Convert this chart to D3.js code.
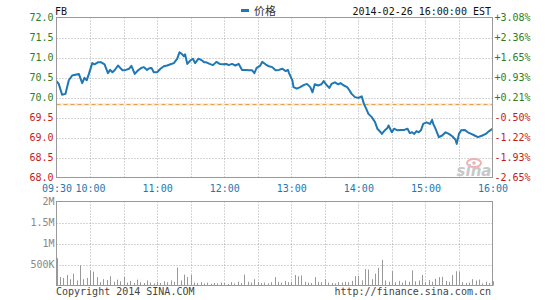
<!DOCTYPE html>
<html><head><meta charset="utf-8">
<script src="https://cdn.jsdelivr.net/npm/d3@7"></script>
<style>
html,body{margin:0;padding:0;background:#fff;}
svg{display:block;}
text{font-family:"DejaVu Sans Mono",monospace;font-size:10px;}
</style></head>
<body>
<svg id="c" width="545" height="300"></svg>
<script>
// ---- data ----
const symbol = "FB";
const seriesName = "价格";
const stamp = "2014-02-26 16:00:00 EST";
const prevClose = 69.85;
const priceTicks = [72.0, 71.5, 71.0, 70.5, 70.0, 69.5, 69.0, 68.5, 68.0];
const pctLabels = ["+3.08%","+2.36%","+1.65%","+0.93%","+0.21%","-0.50%","-1.22%","-1.93%","-2.65%"];
const timeTickMinutes = [0, 30, 90, 150, 210, 270, 330, 390];
const timeLabels = ["09:30","10:00","11:00","12:00","13:00","14:00","15:00","16:00"];
const gridMinutes = [30,60,90,120,150,180,210,240,270,300,330,360];
const volTicks = [2000, 1500, 1000, 500];
const volLabels = ["2M","1.5M","1M","500K"];
// minutes after 09:30
const priceMinutes = [0,2,5,8,11,14,17,20,23,25,27,29,32,34,37,40,43,46,48,50,52,55,57,59,62,65,67,70,73,76,78,81,83,85,87,90,93,96,99,102,105,108,110,112,114,115,117,120,122,124,127,130,132,134,137,140,143,146,149,152,154,157,160,163,166,169,172,175,177,179,182,184,187,190,193,196,199,202,205,207,208,211,212,215,218,221,224,227,229,231,234,237,239,241,244,246,249,252,254,257,260,262,264,267,270,273,275,277,279,282,285,287,290,291,294,296,297,300,302,305,308,311,314,316,318,320,322,324,326,328,331,334,336,337,339,342,345,348,351,354,357,358,360,362,365,368,371,374,377,381,384,387,390];
const priceValues = [70.41,70.34,70.07,70.09,70.43,70.55,70.57,70.59,70.36,70.49,70.43,70.59,70.86,70.83,70.88,70.88,70.83,70.61,70.69,70.63,70.68,70.80,70.74,70.68,70.69,70.72,70.79,70.59,70.68,70.74,70.76,70.69,70.73,70.74,70.63,70.63,70.72,70.78,70.80,70.83,70.86,70.97,71.13,71.09,71.03,71.08,70.84,70.93,70.97,70.86,70.97,70.93,70.88,70.88,70.84,70.81,70.89,70.84,70.83,70.84,70.81,70.84,70.80,70.84,70.69,70.69,70.68,70.68,70.61,70.74,70.79,70.89,70.83,70.78,70.76,70.68,70.69,70.72,70.66,70.69,70.61,70.43,70.26,70.22,70.26,70.31,70.34,70.26,70.13,70.33,70.30,70.33,70.41,70.33,70.24,70.34,70.38,70.33,70.36,70.30,70.26,70.18,70.09,70.01,69.99,70.03,69.84,69.72,69.59,69.51,69.38,69.22,69.13,69.09,69.19,69.24,69.30,69.13,69.22,69.18,69.19,69.19,69.22,69.11,69.13,69.09,69.16,69.13,69.18,69.34,69.38,69.34,69.44,69.34,69.22,69.01,69.05,69.13,69.09,69.03,68.94,68.84,69.09,69.18,69.19,69.13,69.09,69.05,69.01,69.05,69.09,69.16,69.22];
// volume in thousands, one bar every 3 minutes from 09:30
const volumeK = [650,200,180,250,150,280,120,480,150,180,360,330,200,80,150,130,220,90,140,100,210,70,110,60,140,80,60,120,70,50,90,60,100,80,120,90,430,120,260,200,250,70,60,80,50,70,40,60,50,70,60,40,80,50,90,60,260,90,70,150,80,60,70,50,80,200,90,70,110,80,90,250,220,240,90,70,60,200,90,80,150,70,60,50,80,70,90,80,110,220,230,120,390,380,150,280,420,610,120,90,340,80,110,70,120,90,360,100,120,250,80,130,90,160,200,210,110,90,250,340,330,80,60,70,150,120,140,50,90,60,100];
const volStepMin = 3;
const copyright = "Copyright 2014 SINA.COM";
const siteUrl = "http://finance.sina.com.cn";

// ---- layout ----
const L = 56.5, R = 492.5;
const mainTop = 17.5, mainBot = 177.5;
const volTop = 201.5, volBot = 285.5;
const green = "#2f7d1c", red = "#c41a1a", blue = "#1f77b4";

const svg = d3.select("#c");
const x = d3.scaleLinear().domain([0, 390]).range([L, R]);
const y = d3.scaleLinear().domain([68, 72]).range([mainBot, mainTop]);
const yv = d3.scaleLinear().domain([0, 2000]).range([volBot, volTop]);

// grids
function grid(g, top, bot, yVals, ys) {
  g.selectAll("line.v").data(gridMinutes).join("line")
    .attr("x1", d => Math.round(x(d)) + 0.5).attr("x2", d => Math.round(x(d)) + 0.5)
    .attr("y1", top).attr("y2", bot)
    .attr("stroke", "#aaa").attr("stroke-dasharray", "1,2");
  g.selectAll("line.h").data(yVals).join("line").attr("class","h")
    .attr("x1", L).attr("x2", R)
    .attr("y1", d => Math.round(ys(d)) + 0.5).attr("y2", d => Math.round(ys(d)) + 0.5)
    .attr("stroke", "#aaa").attr("stroke-dasharray", "1,2");
}
grid(svg.append("g"), mainTop, mainBot, priceTicks.slice(1, -1), y);
grid(svg.append("g"), volTop, volBot, volTicks.slice(1), yv);

// prev close line
const pcY = Math.round(y(prevClose)) + 0.5;
svg.append("line").attr("x1", L).attr("x2", R).attr("y1", pcY).attr("y2", pcY)
  .attr("stroke", "#fbeed6").attr("stroke-width", 3);
svg.append("line").attr("x1", L).attr("x2", R).attr("y1", pcY).attr("y2", pcY)
  .attr("stroke", "#e9a04a").attr("stroke-dasharray", "4,3");

// sina watermark
const wm = svg.append("g");
wm.append("ellipse").attr("cx", 474).attr("cy", 163).attr("rx", 7).attr("ry", 4)
  .attr("fill", "none").attr("stroke", "#f2b0b0").attr("stroke-width", 2);
wm.append("circle").attr("cx", 474).attr("cy", 163).attr("r", 1.8).attr("fill", "#f2b0b0");
wm.append("text").attr("x", 474).attr("y", 176).attr("text-anchor", "middle")
  .style("font-family", "DejaVu Sans").style("font-size", "15px").style("font-weight", "bold")
  .style("font-style", "italic").attr("fill", "#c8c8c8").text("sina");

// price line
const pts = priceMinutes.map((m, i) => [m, priceValues[i]]);
svg.append("path").datum(pts)
  .attr("d", d3.line().x(d => x(d[0])).y(d => y(d[1])))
  .attr("fill", "none").attr("stroke", blue).attr("stroke-width", 2).attr("stroke-linejoin", "round");

// volume bars
svg.append("g").selectAll("line").data(volumeK).join("line")
  .attr("x1", (d, i) => Math.round(x(i * volStepMin)) + 0.5)
  .attr("x2", (d, i) => Math.round(x(i * volStepMin)) + 0.5)
  .attr("y1", volBot).attr("y2", d => yv(d))
  .attr("stroke", "#999");

// frames
[[mainTop, mainBot], [volTop, volBot]].forEach(([t, b]) => {
  svg.append("rect").attr("x", L).attr("y", t).attr("width", R - L).attr("height", b - t)
    .attr("fill", "none").attr("stroke", "#999");
});

// left price axis
const ax = svg.append("g").attr("transform", `translate(${L},0)`)
  .call(d3.axisLeft(y).tickValues(priceTicks).tickSize(0).tickPadding(3).tickFormat(d3.format(".1f")));
ax.select(".domain").remove();
ax.selectAll("text").style("font-family", "DejaVu Sans Mono").style("font-size", "10px")
  .attr("fill", d => d >= prevClose ? green : red);

// right percent axis
const ar = svg.append("g").attr("transform", `translate(${R},0)`)
  .call(d3.axisRight(y).tickValues(priceTicks).tickSize(0).tickPadding(2).tickFormat((d, i) => pctLabels[i]));
ar.select(".domain").remove();
ar.selectAll("text").style("font-family", "DejaVu Sans Mono").style("font-size", "10px")
  .attr("fill", d => d >= prevClose ? green : red);

// time axis
const at = svg.append("g").attr("transform", `translate(0,${mainBot})`)
  .call(d3.axisBottom(x).tickValues(timeTickMinutes).tickSize(0).tickPadding(7).tickFormat((d, i) => timeLabels[i]));
at.select(".domain").remove();
at.selectAll("text").style("font-family", "DejaVu Sans Mono").style("font-size", "10px").attr("fill", "#2277b0");

// volume axis
const av = svg.append("g").attr("transform", `translate(${L},0)`)
  .call(d3.axisLeft(yv).tickValues(volTicks).tickSize(0).tickPadding(2).tickFormat((d, i) => volLabels[i]));
av.select(".domain").remove();
av.selectAll("text").style("font-family", "DejaVu Sans Mono").style("font-size", "10px").attr("fill", "#888");

// header
svg.append("text").attr("x", 55).attr("y", 15).attr("fill", "#111").text(symbol);
svg.append("line").attr("x1", 241).attr("x2", 249).attr("y1", 10.5).attr("y2", 10.5)
  .attr("stroke", blue).attr("stroke-width", 3);
svg.append("text").attr("x", 254).attr("y", 15).attr("fill", "#333")
  .style("font-family", "Noto Sans CJK SC").style("font-size", "11px").text(seriesName);
svg.append("text").attr("x", 491).attr("y", 15).attr("text-anchor", "end").attr("fill", "#111").text(stamp);

// footer
svg.append("text").attr("x", 56).attr("y", 295).attr("fill", "#444").text(copyright);
svg.append("text").attr("x", 491).attr("y", 295).attr("text-anchor", "end").attr("fill", "#444").text(siteUrl);
</script>
</body></html>
